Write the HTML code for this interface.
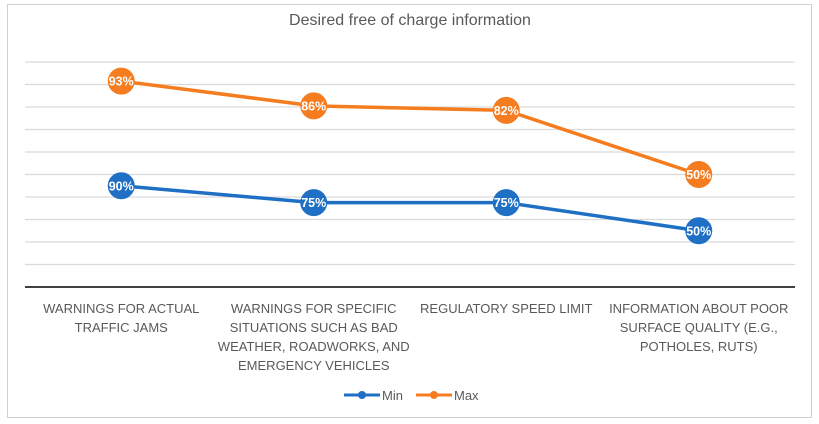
<!DOCTYPE html>
<html><head><meta charset="utf-8"><style>
body{margin:0;background:#fff;font-family:"Liberation Sans","DejaVu Sans",sans-serif;}
svg{display:block}
</style></head><body>
<svg id="chart" width="819" height="424">
<rect x="7.5" y="4.5" width="804" height="413" fill="#fff" stroke="#d0d0d0"/>
<text x="410" y="25" text-anchor="middle" font-size="16" fill="#595959">Desired free of charge information</text>
<g id="grid"></g><g id="cats"></g><g id="series"></g>
<g>
<g><line x1="344" y1="395" x2="380" y2="395" stroke="#1f6fc5" stroke-width="3"/><circle cx="362" cy="395" r="4" fill="#1f6fc5"/><text x="382" y="400" font-size="13" fill="#595959">Min</text></g>
<g><line x1="416" y1="395" x2="452" y2="395" stroke="#f57c1f" stroke-width="3"/><circle cx="434" cy="395" r="4" fill="#f57c1f"/><text x="454" y="400" font-size="13" fill="#595959">Max</text></g>
</g>
</svg>
<script>
const categories=[["WARNINGS FOR ACTUAL","TRAFFIC JAMS"],["WARNINGS FOR SPECIFIC","SITUATIONS SUCH AS BAD","WEATHER, ROADWORKS, AND","EMERGENCY VEHICLES"],["REGULATORY SPEED LIMIT"],["INFORMATION ABOUT POOR","SURFACE QUALITY (E.G.,","POTHOLES, RUTS)"]];
const minValues=[90,75,75,50];
const maxValues=[93,86,82,50];
const yMax=200, yStep=20;
const NS="http://www.w3.org/2000/svg";
const L=25,R=795,T=62,B=287;
const x=i=>L+(R-L)/categories.length*(i+0.5);
const y=v=>B-(B-T)*v/yMax;
function mk(t,a,p){const e=document.createElementNS(NS,t);for(const k in a)e.setAttribute(k,a[k]);p.appendChild(e);return e;}
const grid=document.getElementById('grid');
for(let v=yStep;v<=yMax;v+=yStep){
 const g=mk('line',{x1:L,x2:R,y1:y(v),y2:y(v),stroke:'#d9d9d9','stroke-width':1.2},grid);
 
 
}
const ax=mk('line',{x1:L,x2:R,y1:B,y2:B,stroke:'#404040','stroke-width':2},grid);


const cats=document.getElementById('cats');
categories.forEach((c,i)=>{
 const t=mk('text',{x:x(i),'text-anchor':'middle','font-size':13,fill:'#595959'},cats);
 
 
 c.forEach((ln,j)=>{const s=mk('tspan',{x:x(i),y:313+j*19},t);s.textContent=ln;});
});
const series=document.getElementById('series');
const stackedMax=maxValues.map((v,i)=>v+minValues[i]);
[[minValues,minValues,'#1f6fc5','min'],[stackedMax,maxValues,'#f57c1f','max']].forEach(([pos,lab,col,nm])=>{
 const p=mk('polyline',{points:pos.map((v,i)=>x(i)+','+y(v)).join(' '),fill:'none',stroke:col,'stroke-width':3.5},series);
 
 
 pos.forEach((v,i)=>{
  const c=mk('circle',{cx:x(i),cy:y(v),r:13.5,fill:col},series);
  
  
  const t=mk('text',{x:x(i),y:y(v)+4.5,'text-anchor':'middle','font-size':12.5,'font-weight':'bold',fill:'#fff'},series);
  
  
  t.textContent=lab[i]+'%';
 });
});
</script>
</body></html>
